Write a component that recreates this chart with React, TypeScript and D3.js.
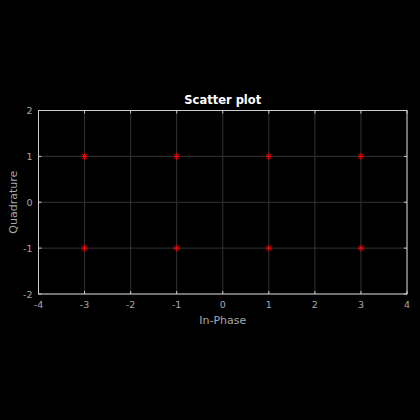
import React from "react";
import * as d3 from "d3";

const inPhase = [-3, -1, 1, 3, -3, -1, 1, 3];
const quadrature = [1, 1, 1, 1, -1, -1, -1, -1];
const xTicks = [-4, -3, -2, -1, 0, 1, 2, 3, 4];
const yTicks = [-2, -1, 0, 1, 2];

export default function App() {
  const W = 420, H = 420;
  const L = 38.5, R = 407, T = 110.5, B = 294;
  const x = d3.scaleLinear().domain([-4, 4]).range([L, R]);
  const y = d3.scaleLinear().domain([-2, 2]).range([B, T]);
  const font = "DejaVu Sans, sans-serif";
  const tickCol = "#a8a8a8";
  const s = 3.5;
  return (
    <svg width={W} height={H} style={{ position: "absolute", left: 0, top: 0, background: "#000" }}>
      <rect x={0} y={0} width={W} height={H} fill="#000" />
      {xTicks.map((t) => (
        <line key={"gx" + t} x1={x(t)} x2={x(t)} y1={T} y2={B} stroke="#333333" strokeWidth={1} />
      ))}
      {yTicks.map((t) => (
        <line key={"gy" + t} x1={L} x2={R} y1={y(t)} y2={y(t)} stroke="#333333" strokeWidth={1} />
      ))}
      {xTicks.map((t) => (
        <g key={"tx" + t}>
          <line x1={x(t)} x2={x(t)} y1={B} y2={B - 3} stroke="#cccccc" />
          <line x1={x(t)} x2={x(t)} y1={T} y2={T + 3} stroke="#cccccc" />
          <text x={x(t)} y={B + 14} fill={tickCol} fontSize={9.5} fontFamily={font} textAnchor="middle">
            {t}
          </text>
        </g>
      ))}
      {yTicks.map((t) => (
        <g key={"ty" + t}>
          <line x1={L} x2={L + 3} y1={y(t)} y2={y(t)} stroke="#cccccc" />
          <line x1={R} x2={R - 3} y1={y(t)} y2={y(t)} stroke="#cccccc" />
          <text x={L - 6} y={y(t) + 3.5} fill={tickCol} fontSize={9.5} fontFamily={font} textAnchor="end">
            {t}
          </text>
        </g>
      ))}
      <rect x={L} y={T} width={R - L} height={B - T} fill="none" stroke="#cccccc" strokeWidth={1} />
      {inPhase.map((v, i) => {
        const cx = x(v), cy = y(quadrature[i]);
        return (
          <g key={"p" + i} stroke="#ff0000" strokeWidth={0.9}>
            <line x1={cx - s} x2={cx + s} y1={cy} y2={cy} />
            <line x1={cx} x2={cx} y1={cy - s} y2={cy + s} />
            <line x1={cx - s * 0.7} x2={cx + s * 0.7} y1={cy - s * 0.7} y2={cy + s * 0.7} />
            <line x1={cx - s * 0.7} x2={cx + s * 0.7} y1={cy + s * 0.7} y2={cy - s * 0.7} />
          </g>
        );
      })}
      <text x={(L + R) / 2} y={104} fill="#ffffff" fontSize={11.5} fontWeight="bold" fontFamily={font} textAnchor="middle">
        Scatter plot
      </text>
      <text x={(L + R) / 2} y={324} fill={tickCol} fontSize={11} fontFamily={font} textAnchor="middle">
        In-Phase
      </text>
      <text
        transform={`translate(17,${(T + B) / 2}) rotate(-90)`}
        fill={tickCol}
        fontSize={11}
        fontFamily={font}
        textAnchor="middle"
      >
        Quadrature
      </text>
    </svg>
  );
}
